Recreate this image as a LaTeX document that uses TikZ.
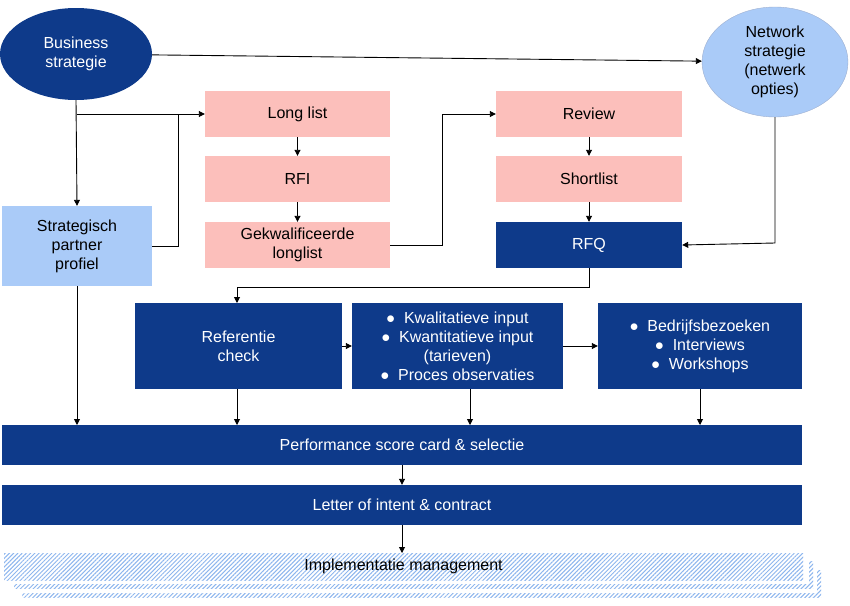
\documentclass[tikz,border=0pt]{standalone}
\usepackage{fontspec}
\setmainfont{Liberation Sans}
\usetikzlibrary{arrows.meta,patterns,patterns.meta,shapes.geometric}
\definecolor{dblue}{HTML}{0E3A8A}
\definecolor{lblue}{HTML}{AACBF8}
\definecolor{pinkc}{HTML}{FCBFBB}
\definecolor{hatch}{HTML}{8DB6EE}
\begin{document}
\begin{tikzpicture}[x=1pt,y=-1pt,
  txt/.style={font=\fontsize{16}{19}\selectfont, align=center},
  pinkbox/.style={txt, fill=pinkc, draw=none, inner sep=0},
  dbox/.style={txt, fill=dblue, text=white, inner sep=0},
  hp/.style={pattern={Lines[angle=45,distance=3pt,line width=1pt]}, pattern color=hatch},
  ar/.style={-{Triangle[length=6pt,width=6pt]}, line width=0.9pt}]
\useasboundingbox (0,0) rectangle (850,605);
\node[txt, ellipse, fill=dblue, text=white, minimum width=152, minimum height=92, inner sep=0] (bs) at (76,54) {Business\\strategie};
\node[txt, ellipse, fill=lblue, draw=dblue!40, minimum width=146, minimum height=110, inner sep=0] (ns) at (775,62) {Network\\strategie\\(netwerk\\opties)};
\node[pinkbox, minimum width=185, minimum height=46] (ll) at (297.5,114) {Long list};
\node[pinkbox, minimum width=185, minimum height=46] (rfi) at (297.5,179) {RFI};
\node[pinkbox, minimum width=185, minimum height=46] (gk) at (297.5,245) {Gekwalificeerde\\longlist};
\node[pinkbox, minimum width=186, minimum height=46] (rv) at (589,114) {Review};
\node[pinkbox, minimum width=186, minimum height=46] (sl) at (589,179) {Shortlist};
\node[dbox, minimum width=186, minimum height=46] (rfq) at (589,245) {RFQ};
\node[txt, fill=lblue, minimum width=150, minimum height=80, inner sep=0] (sp) at (77,246) {Strategisch\\partner\\profiel};
\node[dbox, minimum width=207, minimum height=86] (rc) at (238.5,346) {Referentie\\check};
\node[dbox, minimum width=211, minimum height=86] (mid) at (457.5,346) {$\bullet$\ \ Kwalitatieve input\\$\bullet$\ \ Kwantitatieve input\\(tarieven)\\$\bullet$\ \ Proces observaties};
\node[dbox, minimum width=204, minimum height=86] (rt) at (700,346) {$\bullet$\ \ Bedrijfsbezoeken\\$\bullet$\ \ Interviews\\$\bullet$\ \ Workshops};
\node[dbox, minimum width=800, minimum height=40] (ps) at (402,445) {Performance score card \& selectie};
\node[dbox, minimum width=800, minimum height=40] (li) at (402,505) {Letter of intent \& contract};
% implementation stack
\foreach \dx/\dy in {18/17,10/8} {
  \fill[white] (4+\dx,553+\dy) rectangle (803+\dx,580+\dy);
  \fill[hp] (4+\dx,553+\dy) rectangle (803+\dx,580+\dy);
  \fill[white] (4+\dx-4,553+\dy-4) rectangle (803+\dx-4,580+\dy-4);
}
\fill[hp] (4,553) rectangle (803,580);
\node[txt, minimum width=799, minimum height=27, inner sep=0] (im) at (403.5,566.5) {Implementatie management};
% connectors
\draw[ar] (bs) -- (ns);
\draw[ar] (bs.south) -- (sp.north);
\draw[ar] (77,114) -- (ll.west);
\draw[line width=0.9pt] (sp.east) -- (178,246) -- (178,114);
\draw[ar] (ll) -- (rfi);
\draw[ar] (rfi) -- (gk);
\draw[ar] (gk.east) -- (442,245) -- (442,114) -- (rv.west);
\draw[ar] (rv) -- (sl);
\draw[ar] (sl) -- (rfq);
\draw[ar] (ns.south) -- (775,243) -- (rfq.east);
\draw[ar] (rfq.south) -- (589,287) -- (237,287) -- (237,303);
\draw[ar] (rc) -- (mid);
\draw[ar] (mid) -- (rt);
\draw[ar] (sp.south) -- (77,425);
\draw[ar] (237,389) -- (237,425);
\draw[ar] (470,389) -- (470,425);
\draw[ar] (700,389) -- (700,425);
\draw[ar] (ps.south) -- (li.north);
\draw[ar] (li.south) -- (402,553);
\end{tikzpicture}
\end{document}
